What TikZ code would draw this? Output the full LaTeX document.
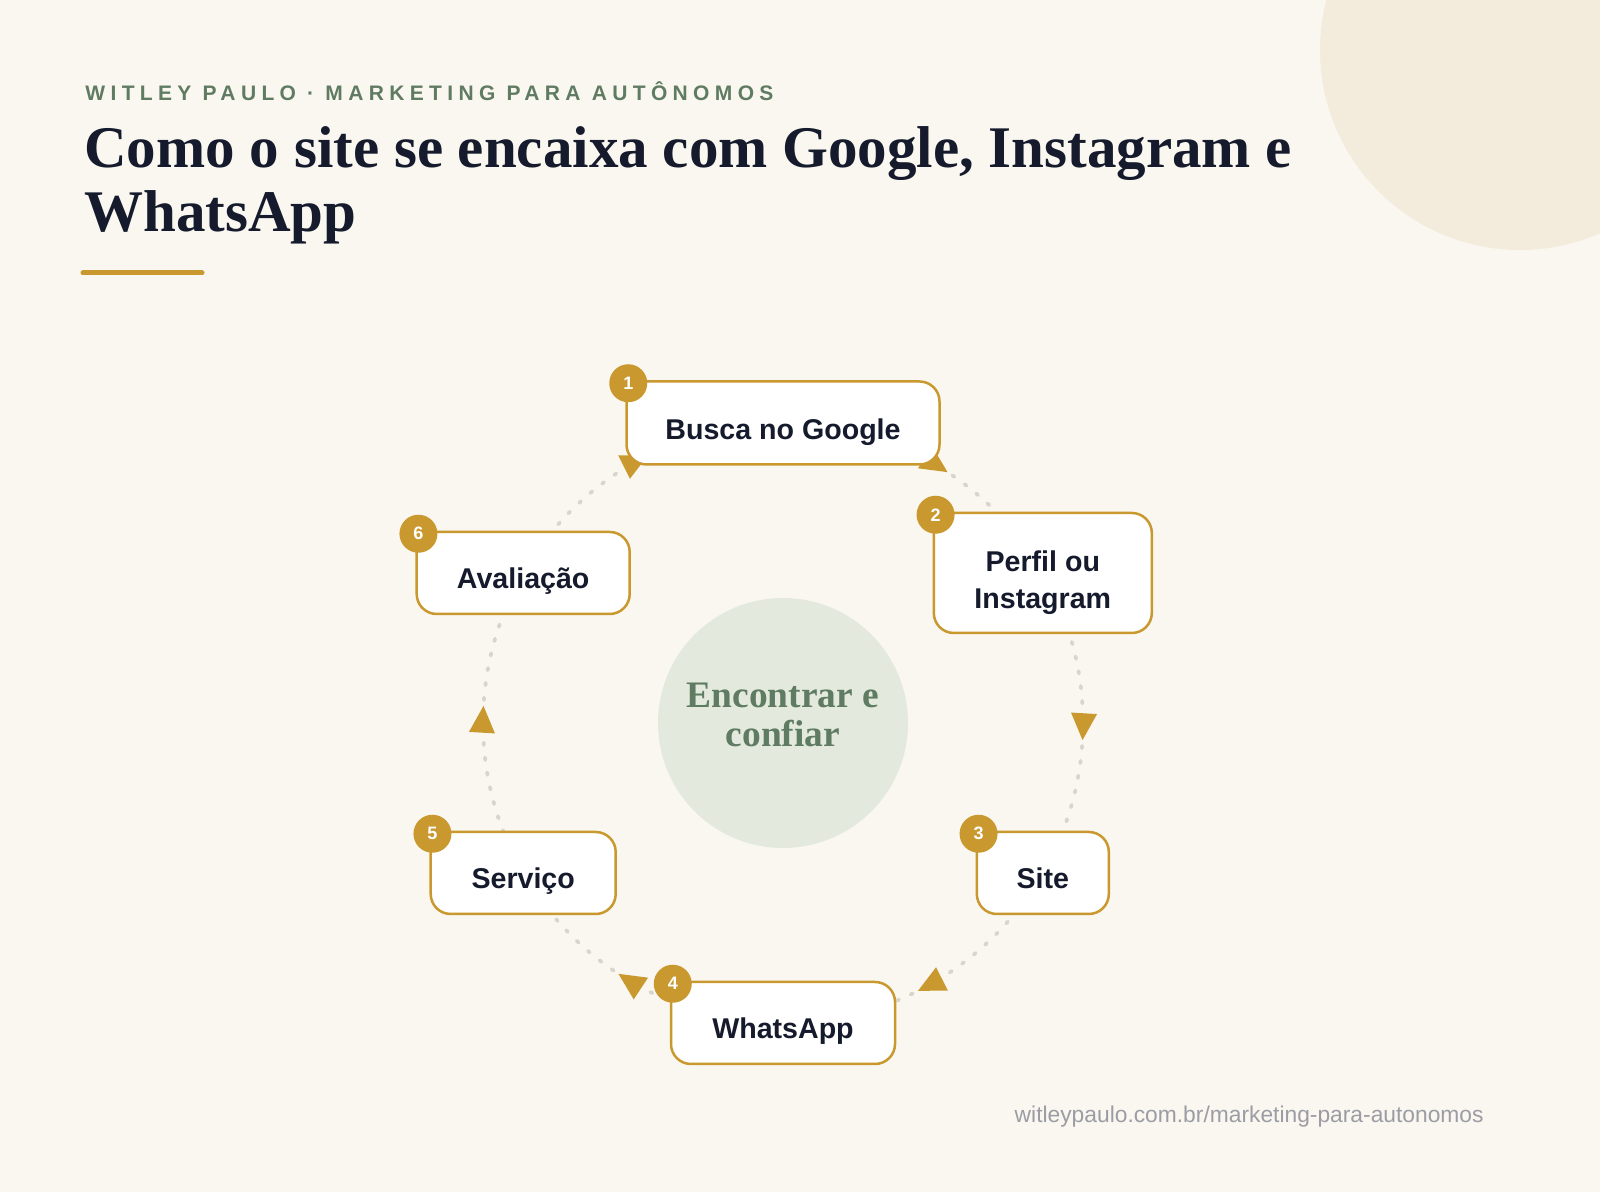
\documentclass[tikz,border=0pt]{standalone}
\usepackage{fontspec}
\setmainfont{Liberation Serif}
\setsansfont{Liberation Sans}
\newfontfamily\kickerfont[LetterSpace=25.5]{Liberation Sans}
\usetikzlibrary{calc,decorations.markings,arrows.meta}
\definecolor{bgc}{HTML}{FAF7F0}
\definecolor{decoc}{HTML}{F3ECDD}
\definecolor{gold}{HTML}{C9992F}
\definecolor{navy}{HTML}{151B2C}
\definecolor{sagetext}{HTML}{5F7B62}
\definecolor{sagefill}{HTML}{E3EADD}
\definecolor{dotc}{HTML}{D8D5CA}
\definecolor{footc}{HTML}{9C9CA4}
\begin{document}
\begin{tikzpicture}[x=0.5pt,y=0.5pt,
  box/.style={draw=gold, line width=1.25pt, fill=white, rounded corners=10pt, inner sep=0pt, minimum height=41pt},
  badge/.style={circle, fill=gold, minimum size=19pt, inner sep=0pt, text=white, font=\sffamily\bfseries\fontsize{9}{9}\selectfont},
  lbl/.style={font=\sffamily\bfseries\fontsize{14.3}{17}\selectfont, text=navy, inner sep=0pt, anchor=base},
  hubtext/.style={font=\rmfamily\bfseries\fontsize{18.7}{22}\selectfont, text=sagetext, inner sep=0pt, anchor=base},
  flow/.style={draw=dotc, line width=1.9pt, line cap=round, dash pattern=on 1.2pt off 6.3pt,
    postaction={decorate},
    decoration={markings, mark=at position 0.555 with {\arrow{Triangle[length=13.5pt,width=12.5pt,color=gold]}}}}
]
\useasboundingbox (0,0) rectangle (1600,1192);
\fill[bgc] (0,0) rectangle (1600,1192);
\begin{scope}
  \clip (0,0) rectangle (1600,1192);
  \fill[decoc] (1520,1142) circle[radius=100pt];
\end{scope}

% header
\node[anchor=base west, inner sep=0pt, text=sagetext, font=\kickerfont\bfseries\fontsize{10.5}{12}\selectfont] (kicker) at (85,1091) {WITLEY PAULO · MARKETING PARA AUTÔNOMOS};
\node[anchor=base west, inner sep=0pt, text=navy, font=\rmfamily\bfseries\fontsize{29.5}{32}\selectfont] (title1) at (84,1024) {Como o site se encaixa com Google, Instagram e};
\node[anchor=base west, inner sep=0pt, text=navy, font=\rmfamily\bfseries\fontsize{29.5}{32}\selectfont] (title2) at (84,960) {WhatsApp};
\draw[gold, line width=2.5pt, line cap=round] (83,919) -- (202,919);

% centre
\coordinate (c) at (783,469);
\node[circle, fill=sagefill, minimum size=125pt, inner sep=0pt] (hub) at (c) {};

% boxes positions
\coordinate (p1) at ($(c)+(90:300)$);
\coordinate (p2) at ($(c)+(30:300)$);
\coordinate (p3) at ($(c)+(-30:300)$);
\coordinate (p4) at ($(c)+(-90:300)$);
\coordinate (p5) at ($(c)+(-150:300)$);
\coordinate (p6) at ($(c)+(150:300)$);

% connectors
\draw[flow] (p1) arc[start angle=90, end angle=30, radius=150pt];
\draw[flow] (p2) arc[start angle=30, end angle=-30, radius=150pt];
\draw[flow] (p3) arc[start angle=-30, end angle=-90, radius=150pt];
\draw[flow] (p4) arc[start angle=-90, end angle=-150, radius=150pt];
\draw[flow] (p5) arc[start angle=-150, end angle=-210, radius=150pt];
\draw[flow] (p6) arc[start angle=150, end angle=90, radius=150pt];

\node[box, minimum width=156.5pt, minimum height=41.5pt] (b1) at (p1) {};
\node[box, minimum width=109pt, minimum height=60pt] (b2) at (p2) {};
\node[box, minimum width=66pt] (b3) at (p3) {};
\node[box, minimum width=112pt] (b4) at (p4) {};
\node[box, minimum width=92.5pt] (b5) at (p5) {};
\node[box, minimum width=106.5pt] (b6) at (p6) {};

\node[lbl] (t1) at ([yshift=-8.25pt]b1.center) {Busca no Google};
\node[lbl] (t2a) at ([yshift=0.5pt]b2.center) {Perfil ou};
\node[lbl] (t2b) at ([yshift=-18pt]b2.center) {Instagram};
\node[lbl] (t3) at ([yshift=-8pt]b3.center) {Site};
\node[lbl] (t4) at ([yshift=-8pt]b4.center) {WhatsApp};
\node[lbl] (t5) at ([yshift=-8pt]b5.center) {Serviço};
\node[lbl] (t6) at ([yshift=-8pt]b6.center) {Avaliação};

\node[badge] (n1) at ([shift={(1.5pt,-1.5pt)}]b1.north west) {1};
\node[badge] (n2) at ([shift={(1.5pt,-1.5pt)}]b2.north west) {2};
\node[badge] (n3) at ([shift={(1.5pt,-1.5pt)}]b3.north west) {3};
\node[badge] (n4) at ([shift={(1.5pt,-1.5pt)}]b4.north west) {4};
\node[badge] (n5) at ([shift={(1.5pt,-1.5pt)}]b5.north west) {5};
\node[badge] (n6) at ([shift={(1.5pt,-1.5pt)}]b6.north west) {6};

\node[hubtext] (h1) at ([yshift=7.5pt]hub.center) {Encontrar e};
\node[hubtext] (h2) at ([yshift=-12pt]hub.center) {confiar};

\node[anchor=base east, inner sep=0pt, text=footc, font=\sffamily\fontsize{11.4}{13}\selectfont] (foot) at (1484,69) {witleypaulo.com.br/marketing-para-autonomos};
\end{tikzpicture}
\end{document}
